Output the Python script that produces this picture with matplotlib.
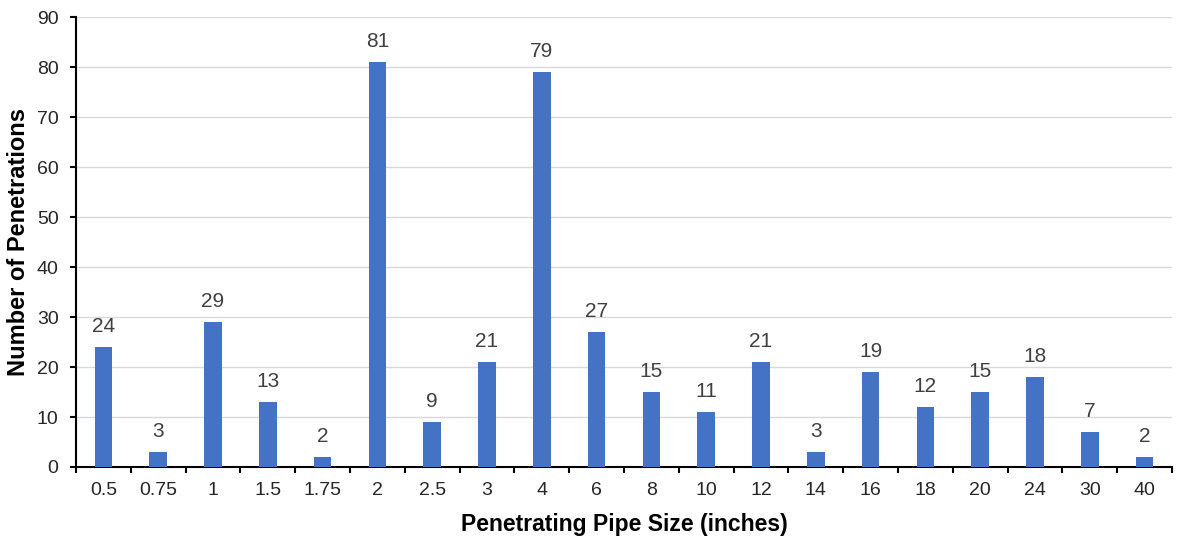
import numpy as np
import matplotlib.pyplot as plt

plt.rcParams['font.family'] = ['Liberation Sans', 'DejaVu Sans']

# pipe size categories and counts
sizes = ['0.5', '0.75', '1', '1.5', '1.75', '2', '2.5', '3', '4', '6',
         '8', '10', '12', '14', '16', '18', '20', '24', '30', '40']
counts = [24, 3, 29, 13, 2, 81, 9, 21, 79, 27,
          15, 11, 21, 3, 19, 12, 15, 18, 7, 2]

fig = plt.figure(figsize=(11.83, 5.38), dpi=100)
ax = fig.add_axes([0.0642, 0.132, 0.9265, 0.836])

x = np.arange(len(sizes))
bars = ax.bar(x, counts, width=0.32, color='#4472C4', zorder=3)

for xi, c in zip(x, counts):
    ax.text(xi, c + 2.2, str(c), ha='center', va='bottom',
            fontsize=15, color='#404040')

ax.set_xlim(-0.5, len(sizes) - 0.5)
ax.set_ylim(0, 90)
ax.set_yticks(range(0, 91, 10))
ax.set_xticks(x)
ax.set_xticklabels(sizes)
ax.set_xticks(np.arange(-0.5, len(sizes), 1), minor=True)
ax.tick_params(axis='x', which='major', length=0, pad=11, labelsize=14,
               labelcolor='#262626')
ax.tick_params(axis='x', which='minor', length=4.5, width=1.5, direction='out')
ax.tick_params(axis='y', length=4.5, width=1.5, pad=8, labelsize=14,
               labelcolor='#262626')

ax.grid(axis='y', color='#D9D9D9', linewidth=1, zorder=0)
for s in ['top', 'right']:
    ax.spines[s].set_visible(False)
for s in ['left', 'bottom']:
    ax.spines[s].set_linewidth(1.5)

ax.set_xlabel('Penetrating Pipe Size (inches)', fontsize=16.5,
              fontweight='bold', labelpad=10)
ax.set_ylabel('Number of Penetrations', fontsize=17,
              fontweight='bold', labelpad=5)

fig.savefig('out.png', dpi=100)
